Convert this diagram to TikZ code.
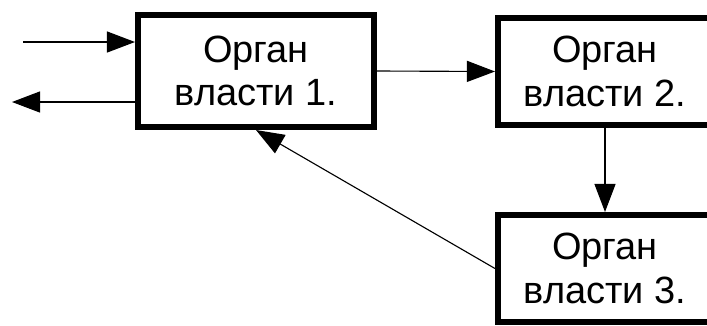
\documentclass[tikz,border=0pt]{standalone}
\usepackage{fontspec}
\setmainfont{Liberation Sans}
\usetikzlibrary{positioning, arrows.meta}

\tikzset{
    organ/.style={draw, line width=4.3pt, rectangle, align=center,
        font=\fontsize{27pt}{31pt}\selectfont, inner sep=0pt},
    link/.style={line width=0.8pt, -{Triangle[length=20pt, width=15pt]}}
}

\begin{document}
\begin{tikzpicture}[x=0.025cm, y=-0.025cm]
            \clip (0, 0) rectangle (707, 325);

            \node[organ, minimum width=236*0.025cm, minimum height=112*0.025cm] (O1) at (256, 71) {Орган\\власти 1.};
            \node[organ, minimum width=214*0.025cm, minimum height=107*0.025cm] (O2) at (605, 71.5) {Орган\\власти 2.};
            \node[organ, minimum width=214*0.025cm, minimum height=107*0.025cm] (O3) at (605, 268.5) {Орган\\власти 3.};

            \coordinate (In) at (23, 42);
            \coordinate (Out) at (12, 102);

            \draw [link] (In) -- (In -| O1.west);
            \draw [link] (O1.west |- Out) -- (Out);

            \draw [link] (O1.east) -- (O2.west);
            \draw [link] (O2.south) -- (O3.north);
            \draw [link] (O3.west) -- (O1.south);
        \end{tikzpicture}
\end{document}
